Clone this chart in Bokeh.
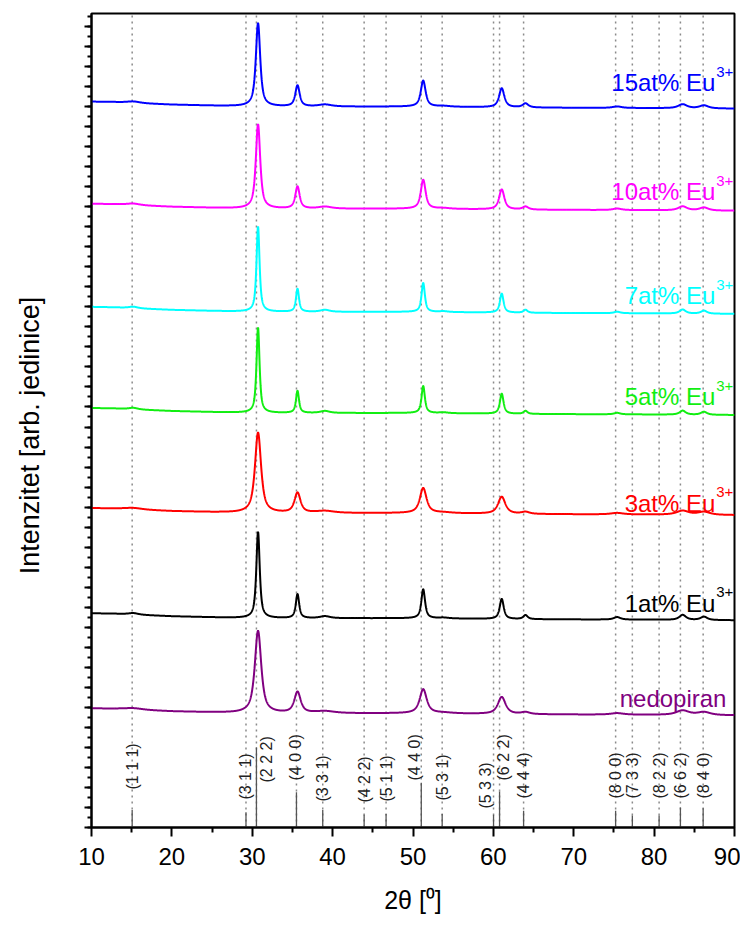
import numpy as np
from bokeh.plotting import figure
from bokeh.models import (FixedTicker, SingleIntervalTicker, CustomJSTickFormatter,
                          Range1d, ColumnDataSource)
from bokeh.core.properties import value
from bokeh.embed import file_html
from bokeh.resources import INLINE

# ---------------- data ----------------
# sample diffraction peaks (2theta, deg) and their relative broadening
peak_pos = [15.2, 30.72, 35.63, 39.05, 51.27, 53.8, 61.04, 64.0, 75.4, 83.55, 86.2]
peak_broad = [3.0, 1.0, 1.0, 3.0, 1.1, 3.0, 1.2, 1.3, 2.0, 2.0, 2.0]

series_names = ["nedopiran", "1at% Eu", "3at% Eu", "5at% Eu", "7at% Eu", "10at% Eu", "15at% Eu"]
series_colors = ["#800080", "#000000", "#ff0000", "#11ee11", "#00ffff", "#ff00ff", "#0000ff"]
series_offset = [114, 209, 314, 414, 515, 618, 720]
series_fwhm = [0.95, 0.5, 0.9, 0.45, 0.45, 0.65, 0.65]

h_nedopiran = [1.5, 82, 21, 2, 24, 0.8, 17, 2, 1.5, 4.5, 3.0]
h_1at = [1.5, 86, 24, 2, 29, 0.8, 20, 4, 2.5, 5.0, 3.3]
h_3at = [1.5, 80, 20, 2, 25, 0.8, 17, 2, 1.5, 4.0, 3.0]
h_5at = [1.5, 85, 22, 2, 27, 0.8, 20, 3, 1.5, 4.0, 3.0]
h_7at = [1.5, 85, 23, 2, 29, 0.8, 19, 3, 1.5, 4.0, 3.0]
h_10at = [1.5, 84, 22, 2, 29, 0.8, 20, 3, 1.5, 4.0, 3.0]
h_15at = [1.5, 83, 21, 2, 26, 0.8, 19, 4, 1.5, 4.0, 3.0]
series_heights = [h_nedopiran, h_1at, h_3at, h_5at, h_7at, h_10at, h_15at]

# background level relative to the curve offset
bg_2theta = [10, 13, 17, 20, 25, 28, 35, 50, 65, 80, 90]
bg_level = [5, 4.5, 3, 2, 1, 0.5, 0, 0, -1, -1.5, -2]

# reference reflections
ref_hkl = ["(1 1 1)", "(3 1 1)", "(2 2 2)", "(4 0 0)", "(3 3 1)", "(4 2 2)", "(5 1 1)",
           "(4 4 0)", "(5 3 1)", "(5 3 3)", "(6 2 2)", "(4 4 4)", "(8 0 0)", "(7 3 3)",
           "(8 2 2)", "(6 6 2)", "(8 4 0)"]
ref_pos = [15.06, 29.22, 30.52, 35.5, 38.77, 43.92, 46.65, 51.03, 53.63, 60.02, 60.77,
           63.76, 75.21, 77.29, 80.62, 83.27, 86.1]
ref_int = [22, 19, 100, 44, 22, 16, 17, 56, 17, 16, 45, 21, 21, 15, 15, 25, 24]

# ---------------- layout ----------------
Y_TOP = 813
stick_scale = 0.8
lab_dx = [0, -0.1, 1.3, -0.15, 0, 0, 0, -0.8, 0, -0.95, 0.45, 0, 0, 0, 0, 0, 0.05]
lab_y = [61, 51, 68, 70, 49, 48, 49, 70, 50, 42, 70, 52, 52, 52, 52, 52, 52]
name_dy = [15, 15, 10, 16, 16, 17, 24]

FONT = "Liberation Sans"

p = figure(width=740, height=919, output_backend="svg", toolbar_location=None,
           x_range=Range1d(10, 90), y_range=Range1d(0, Y_TOP),
           min_border_left=91, min_border_right=6, min_border_top=13, min_border_bottom=92)
p.background_fill_color = "white"
p.border_fill_color = "white"
p.grid.visible = False
p.outline_line_color = "black"
p.outline_line_width = 2
p.outline_line_alpha = 1

# dotted reference lines and sticks
p.segment(x0=ref_pos, y0=[0] * len(ref_pos), x1=ref_pos, y1=[Y_TOP] * len(ref_pos),
          line_color="#8a8a8a", line_width=1.5, line_dash="2 4")
p.segment(x0=ref_pos, y0=[0] * len(ref_pos), x1=ref_pos,
          y1=[v * stick_scale for v in ref_int], line_color="#555555", line_width=1.3)

lab_src = ColumnDataSource(dict(x=[a + b for a, b in zip(ref_pos, lab_dx)], y=lab_y, t=ref_hkl))
p.text(x="x", y="y", text="t", source=lab_src, angle=np.pi / 2, text_align="center",
       text_baseline="middle", text_font=value(FONT), text_font_size="16px",
       text_color="#222222")

# diffraction patterns
x = np.linspace(10, 90, 4001)
bg = np.interp(x, bg_2theta, bg_level)
for name, col, off, w, hs in zip(series_names, series_colors, series_offset, series_fwhm, series_heights):
    y = off + bg
    for x0, b, h in zip(peak_pos, peak_broad, hs):
        ww = w * b
        d = (x - x0) / ww
        y = y + h * (0.8 / (1 + 4 * d * d) + 0.2 * np.exp(-4 * np.log(2) * d * d))
    p.line(x, y, line_color=col, line_width=2)

# series labels
for name, col, off, dy in zip(series_names, series_colors, series_offset, name_dy):
    ybase = off + dy
    if name == "nedopiran":
        p.text(x=[89.0], y=[ybase], text=[name], text_align="right", text_baseline="alphabetic",
               text_font=value(FONT), text_font_size="24px", text_color=col)
    else:
        p.text(x=[87.62], y=[ybase], text=[name], text_align="right", text_baseline="alphabetic",
               text_font=value(FONT), text_font_size="24px", text_color=col)
        p.text(x=[87.72], y=[ybase + 11], text=["3+"], text_align="left", text_baseline="alphabetic",
               text_font=value(FONT), text_font_size="15px", text_color=col)

# axes
p.xaxis.ticker = FixedTicker(ticks=[10, 20, 30, 40, 50, 60, 70, 80, 90],
                             minor_ticks=[15, 25, 35, 45, 55, 65, 75, 85])
p.xaxis.axis_label = "2θ [⁰]"
p.yaxis.axis_label = "Intenzitet [arb. jedinice]\u00a0\u00a0\u00a0\u00a0"
p.yaxis.ticker = SingleIntervalTicker(interval=20, num_minor_ticks=2)
p.yaxis.formatter = CustomJSTickFormatter(code="return ''")
for ax in (p.xaxis[0], p.yaxis[0]):
    ax.axis_line_width = 2
    ax.axis_line_color = "black"
    ax.major_tick_in = 0
    ax.minor_tick_in = 0
    ax.major_tick_line_width = 2
    ax.minor_tick_line_width = 2
    ax.major_tick_line_color = "black"
    ax.minor_tick_line_color = "black"
    ax.axis_label_text_font = FONT
    ax.axis_label_text_font_style = "normal"
    ax.axis_label_text_color = "black"
    ax.major_label_text_font = FONT
    ax.major_label_text_font_size = "24px"
    ax.major_label_text_color = "black"
p.xaxis.axis_label_text_font_size = "25px"
p.yaxis.axis_label_text_font_size = "27px"
p.xaxis.major_tick_out = 9
p.xaxis.minor_tick_out = 5
p.xaxis.major_label_standoff = 11
p.xaxis.axis_label_standoff = 18
p.yaxis.major_tick_out = 7
p.yaxis.minor_tick_out = 4
p.yaxis.major_label_standoff = 0
p.yaxis.axis_label_standoff = 40

open("out.html", "w").write(file_html(p, INLINE))
